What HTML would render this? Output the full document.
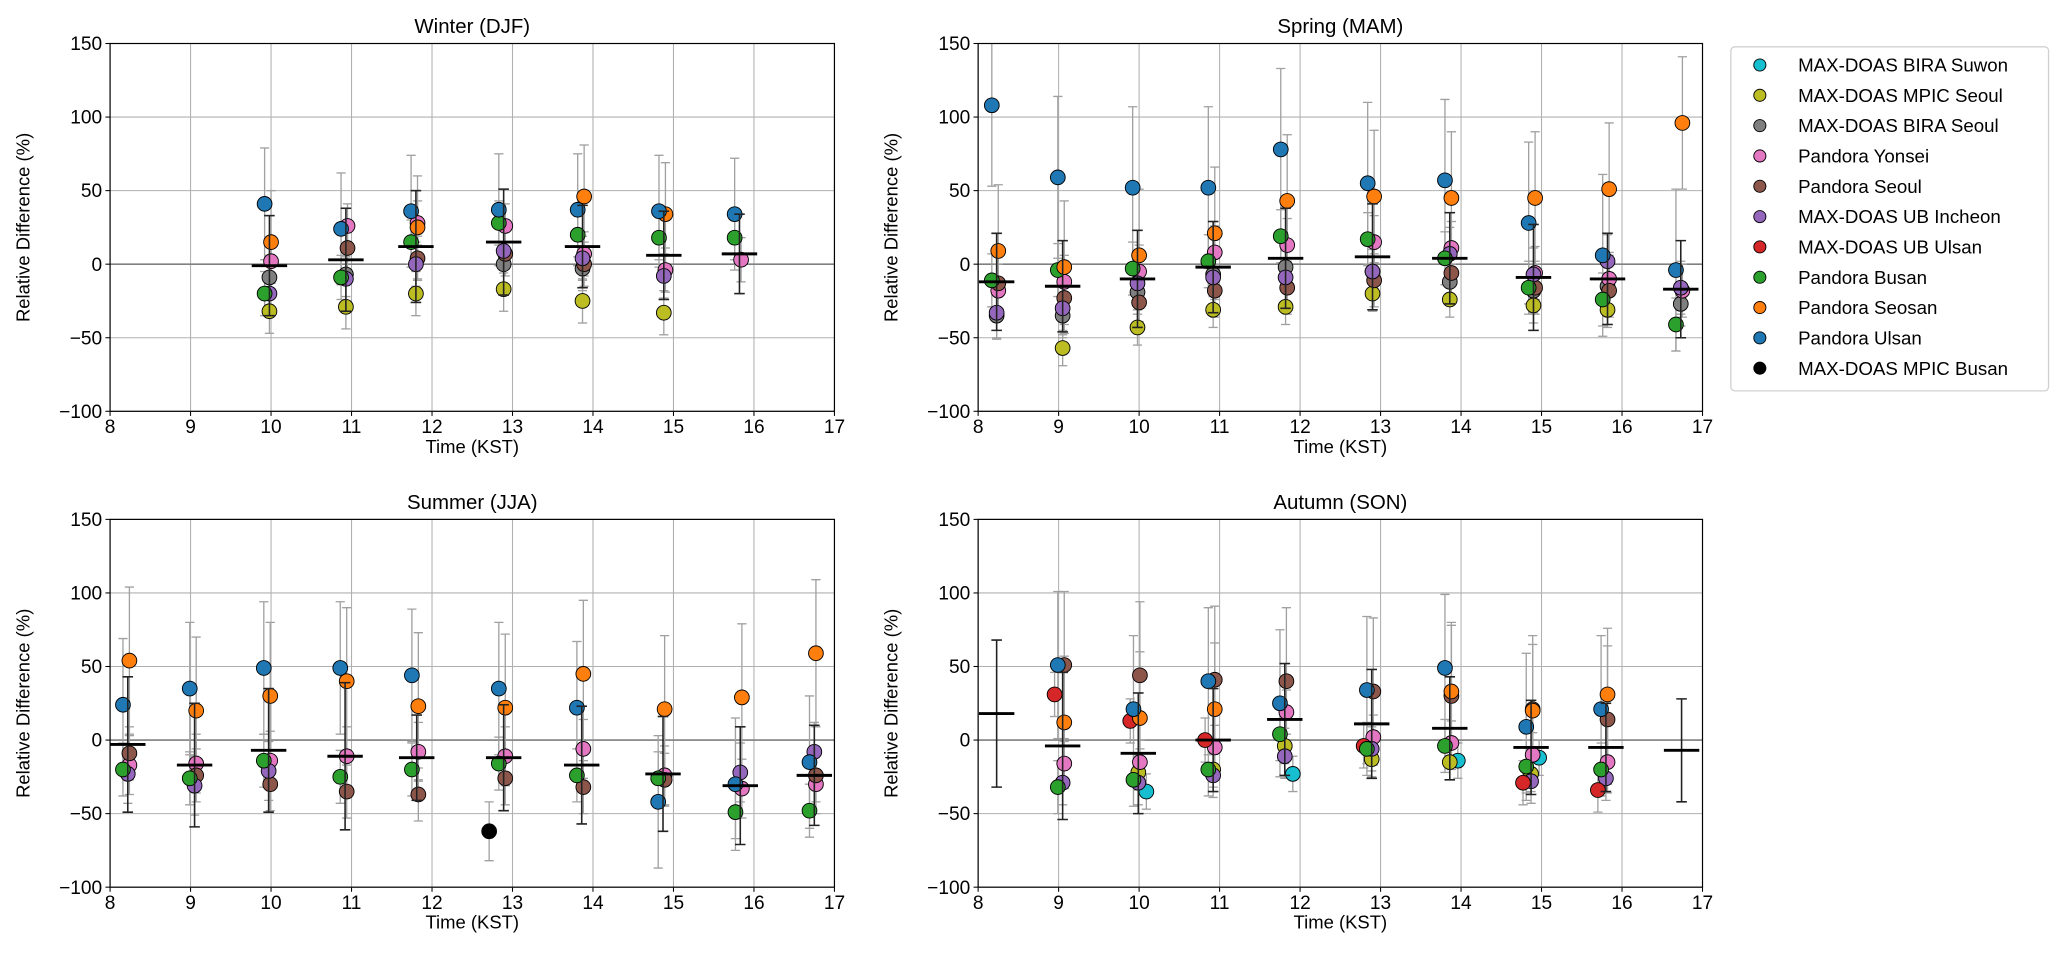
<!DOCTYPE html>
<html><head><meta charset="utf-8"><style>
html,body{margin:0;padding:0;background:#fff;}
svg{display:block;font-family:"Liberation Sans","DejaVu Sans",sans-serif;}
</style></head><body>
<svg id="fig" width="2067" height="961" viewBox="0 0 1568 729" xmlns="http://www.w3.org/2000/svg"></svg>
<script>
// ---- data ----
const stationNames = ["MAX-DOAS BIRA Suwon","MAX-DOAS MPIC Seoul","MAX-DOAS BIRA Seoul","Pandora Yonsei","Pandora Seoul","MAX-DOAS UB Incheon","MAX-DOAS UB Ulsan","Pandora Busan","Pandora Seosan","Pandora Ulsan","MAX-DOAS MPIC Busan"];
const stationColors = ["#17becf","#bcbd22","#7f7f7f","#e377c2","#8c564b","#9467bd","#d62728","#2ca02c","#ff7f0e","#1f77b4","#000000"];
const stationOffsets = [0.1,0.0,0.0,0.02,0.02,0.0,-0.1,-0.06,0.02,-0.06,-0.18];
const yTicks = [-100,-50,0,50,100,150];
const xTicks = [8,9,10,11,12,13,14,15,16,17];

// Winter (DJF)
const winterTimes = [9.98,10.93,11.8,12.89,13.87,14.88,15.82];
const winterMeans = [-1,3,12,15,12,6,7];
const winterMeanErr = [34,35,38,36,28,30,27];
const winterSuwon = [null,null,null,null,null,null,null];
const winterMpicSeoul = [-32,-29,-20,-17,-25,-33,null];
const winterBiraSeoul = [-9,-7,null,0,-3,null,null];
const winterYonsei = [2,26,28,26,7,-4,3];
const winterSeoul = [null,11,4,7,0,null,null];
const winterIncheon = [-20,-10,0,9,4,-8,null];
const winterUbUlsan = [null,null,null,null,null,null,null];
const winterBusan = [-20,-9,15,28,20,18,18];
const winterSeosan = [15,null,25,null,46,34,null];
const winterUlsan = [41,24,36,37,37,36,34];
const winterMpicBusan = [null,null,null,null,null,null,null];
const winterErr = [15,15,15,15,15,15,15,15,35,38,15];

// Spring (MAM)
const springTimes = [8.23,9.05,9.98,10.92,11.82,12.9,13.86,14.9,15.82,16.73];
const springMeans = [-12,-15,-10,-2,4,5,4,-9,-10,-17];
const springMeanErr = [33,31,33,31,34,36,31,36,31,33];
const springSuwon = [null,null,null,null,null,null,null,null,null,null];
const springMpicSeoul = [null,-57,-43,-31,-29,-20,-24,-28,-31,null];
const springBiraSeoul = [-35,-35,-19,-7,-2,-5,-12,-18,-15,-27];
const springYonsei = [-18,-12,-5,8,13,15,11,-6,-10,-18];
const springSeoul = [-13,-23,-26,-18,-16,-11,-6,-16,-18,null];
const springIncheon = [-33,-30,-13,-9,-9,-5,7,-7,2,-16];
const springUbUlsan = [null,null,null,null,null,null,null,null,null,null];
const springBusan = [-11,-4,-3,2,19,17,4,-16,-24,-41];
const springSeosan = [9,-2,6,21,43,46,45,45,51,96];
const springUlsan = [108,59,52,52,78,55,57,28,6,-4];
const springMpicBusan = [null,null,null,null,null,null,null,null,null,null];
const springErr = [15,12,15,18,18,18,15,18,45,55,15];

// Summer (JJA)
const summerTimes = [8.22,9.05,9.97,10.92,11.81,12.89,13.86,14.87,15.83,16.75];
const summerMeans = [-3,-17,-7,-11,-12,-12,-17,-23,-31,-24];
const summerMeanErr = [46,42,42,50,29,36,40,39,40,34];
const summerSuwon = [null,null,null,null,null,null,null,null,null,null];
const summerMpicSeoul = [null,null,null,null,null,null,null,null,null,null];
const summerBiraSeoul = [null,null,null,null,null,null,null,null,null,null];
const summerYonsei = [-17,-16,-14,-11,-8,-11,-6,-24,-33,-30];
const summerSeoul = [-9,-24,-30,-35,-37,-26,-32,-27,null,-24];
const summerIncheon = [-23,-31,-21,null,null,null,null,null,-22,-8];
const summerUbUlsan = [null,null,null,null,null,null,null,null,null,null];
const summerBusan = [-20,-26,-14,-25,-20,-16,-24,-26,-49,-48];
const summerSeosan = [54,20,30,40,23,22,45,21,29,59];
const summerUlsan = [24,35,49,49,44,35,22,-42,-30,-15];
const summerMpicBusan = [null,null,null,null,null,-62,null,null,null,null];
const summerErr = [15,15,15,20,18,20,15,18,50,45,20];

// Autumn (SON)
const autumnTimes = [8.23,9.05,9.99,10.92,11.81,12.89,13.86,14.87,15.8,16.74];
const autumnMeans = [18,-4,-9,0,14,11,8,-5,-5,-7];
const autumnMeanErr = [50,50,41,35,38,37,35,32,30,35];
const autumnSuwon = [null,null,-35,null,-23,null,-14,-12,null,null];
const autumnMpicSeoul = [null,null,-22,-20,-4,-13,-15,-23,null,null];
const autumnBiraSeoul = [null,null,null,null,null,null,null,null,null,null];
const autumnYonsei = [null,-16,-15,-5,19,2,-2,-10,-15,null];
const autumnSeoul = [null,51,44,41,40,33,30,21,14,null];
const autumnIncheon = [null,-29,-29,-24,-11,-6,null,-28,-26,null];
const autumnUbUlsan = [null,31,13,0,null,-4,null,-29,-34,null];
const autumnBusan = [null,-32,-27,-20,4,-6,-4,-18,-20,null];
const autumnSeosan = [null,12,15,21,null,null,33,20,31,null];
const autumnUlsan = [null,51,21,40,25,34,49,9,21,null];
const autumnMpicBusan = [null,null,null,null,null,null,null,null,null,null];
const autumnErr = [12,12,12,15,50,15,15,18,45,50,15];

const panels = [
  {title:"Winter (DJF)", key:"winter", x0:83.5, x1:633, y0:33, y1:312, times:winterTimes, means:winterMeans, meanErr:winterMeanErr, err:winterErr,
   series:[winterSuwon,winterMpicSeoul,winterBiraSeoul,winterYonsei,winterSeoul,winterIncheon,winterUbUlsan,winterBusan,winterSeosan,winterUlsan,winterMpicBusan]},
  {title:"Spring (MAM)", key:"spring", x0:742, x1:1291.5, y0:33, y1:312, times:springTimes, means:springMeans, meanErr:springMeanErr, err:springErr,
   series:[springSuwon,springMpicSeoul,springBiraSeoul,springYonsei,springSeoul,springIncheon,springUbUlsan,springBusan,springSeosan,springUlsan,springMpicBusan]},
  {title:"Summer (JJA)", key:"summer", x0:83.5, x1:633, y0:394, y1:673, times:summerTimes, means:summerMeans, meanErr:summerMeanErr, err:summerErr,
   series:[summerSuwon,summerMpicSeoul,summerBiraSeoul,summerYonsei,summerSeoul,summerIncheon,summerUbUlsan,summerBusan,summerSeosan,summerUlsan,summerMpicBusan]},
  {title:"Autumn (SON)", key:"autumn", x0:742, x1:1291.5, y0:394, y1:673, times:autumnTimes, means:autumnMeans, meanErr:autumnMeanErr, err:autumnErr,
   series:[autumnSuwon,autumnMpicSeoul,autumnBiraSeoul,autumnYonsei,autumnSeoul,autumnIncheon,autumnUbUlsan,autumnBusan,autumnSeosan,autumnUlsan,autumnMpicBusan]}
];

const NS = "http://www.w3.org/2000/svg";
const svg = document.getElementById("fig");
function mk(tag, attrs, parent){
  const e = document.createElementNS(NS, tag);
  for (const k in attrs) e.setAttribute(k, attrs[k]);
  (parent||svg).appendChild(e);
  return e;
}

panels.forEach(p => {
  const g = mk("g", {});
  
  
  const xs = t => p.x0 + (t - 8) / 9 * (p.x1 - p.x0);
  const ys = v => p.y1 - (v + 100) / 250 * (p.y1 - p.y0);
  const clipId = "clip-" + p.key;
  const cp = mk("clipPath", {id: clipId}, g);
  mk("rect", {x:p.x0, y:p.y0, width:p.x1-p.x0, height:p.y1-p.y0}, cp);

  xTicks.forEach(t => {
    const l = mk("line", {x1:xs(t), x2:xs(t), y1:p.y0, y2:p.y1, stroke:"#b0b0b0", "stroke-width":0.8}, g);
    
    
    mk("line", {x1:xs(t), x2:xs(t), y1:p.y1, y2:p.y1+3.5, stroke:"#000", "stroke-width":0.8}, g);
    const tx = mk("text", {x:xs(t), y:p.y1+16.5, "text-anchor":"middle", "font-size":14.5, fill:"#000"}, g);
    tx.textContent = t;
    
    
  });
  yTicks.forEach(v => {
    const l = mk("line", {x1:p.x0, x2:p.x1, y1:ys(v), y2:ys(v), stroke:"#b0b0b0", "stroke-width":0.8}, g);
    
    
    mk("line", {x1:p.x0-3.5, x2:p.x0, y1:ys(v), y2:ys(v), stroke:"#000", "stroke-width":0.8}, g);
    const tx = mk("text", {x:p.x0-6, y:ys(v)+5, "text-anchor":"end", "font-size":14.5, fill:"#000"}, g);
    tx.textContent = v < 0 ? "\u2212" + Math.abs(v) : v;
    
    
  });
  const z = mk("line", {x1:p.x0, x2:p.x1, y1:ys(0), y2:ys(0), stroke:"#808080", "stroke-width":1.3}, g);
  
  

  const dg = mk("g", {"clip-path":"url(#"+clipId+")"}, g);
  p.series.forEach((vals, si) => {
    vals.forEach((v, gi) => {
      if (v === null) return;
      const x = xs(p.times[gi] + stationOffsets[si]);
      const e = p.err[si];
      const eg = mk("g", {}, dg);
      
      
      mk("line", {x1:x, x2:x, y1:ys(v+e), y2:ys(v-e), stroke:"#a0a0a0", "stroke-width":1}, eg);
      mk("line", {x1:x-3.5, x2:x+3.5, y1:ys(v+e), y2:ys(v+e), stroke:"#a0a0a0", "stroke-width":1}, eg);
      mk("line", {x1:x-3.5, x2:x+3.5, y1:ys(v-e), y2:ys(v-e), stroke:"#a0a0a0", "stroke-width":1}, eg);
    });
  });
  p.series.forEach((vals, si) => {
    vals.forEach((v, gi) => {
      if (v === null) return;
      const c = mk("circle", {cx:xs(p.times[gi] + stationOffsets[si]), cy:ys(v), r:5.6, fill:stationColors[si], stroke:"#000", "stroke-width":0.7}, dg);
      
      
    });
  });
  p.means.forEach((m, gi) => {
    const x = xs(p.times[gi]);
    const e = p.meanErr[gi];
    const mg = mk("g", {}, dg);
    
    
    mk("line", {x1:x, x2:x, y1:ys(m+e), y2:ys(m-e), stroke:"#222", "stroke-width":1.2}, mg);
    mk("line", {x1:x-4, x2:x+4, y1:ys(m+e), y2:ys(m+e), stroke:"#222", "stroke-width":1.2}, mg);
    mk("line", {x1:x-4, x2:x+4, y1:ys(m-e), y2:ys(m-e), stroke:"#222", "stroke-width":1.2}, mg);
    mk("line", {x1:x-0.22*(p.x1-p.x0)/9, x2:x+0.22*(p.x1-p.x0)/9, y1:ys(m), y2:ys(m), stroke:"#000", "stroke-width":2.2}, mg);
  });

  const fr = mk("rect", {x:p.x0, y:p.y0, width:p.x1-p.x0, height:p.y1-p.y0, fill:"none", stroke:"#000", "stroke-width":0.9}, g);
  
  
  const tt = mk("text", {x:(p.x0+p.x1)/2, y:p.y0-8, "text-anchor":"middle", "font-size":15.5, fill:"#000"}, g);
  tt.textContent = p.title;
  
  
  const xl = mk("text", {x:(p.x0+p.x1)/2, y:p.y1+31.5, "text-anchor":"middle", "font-size":14, fill:"#000"}, g);
  xl.textContent = "Time (KST)";
  
  
  const yx = p.x0 - 61, yy = (p.y0+p.y1)/2;
  const yl = mk("text", {x:yx, y:yy, "text-anchor":"middle", "font-size":14, fill:"#000", transform:"rotate(-90 "+yx+" "+yy+")"}, g);
  yl.textContent = "Relative Difference (%)";
  
  
});

const lg = mk("g", {});


mk("rect", {x:1313, y:35.5, width:241, height:261, rx:3, fill:"#fff", stroke:"#d0d0d0", "stroke-width":1}, lg);
stationNames.forEach((n, i) => {
  const y = 49.3 + i * 23;
  const eg = mk("g", {}, lg);
  
  
  mk("circle", {cx:1335, cy:y, r:4.6, fill:stationColors[i], stroke:"#000", "stroke-width":0.7}, eg);
  const t = mk("text", {x:1364, y:y+5, "font-size":14.2, fill:"#000"}, eg);
  t.textContent = n;
});
</script>
</body></html>
